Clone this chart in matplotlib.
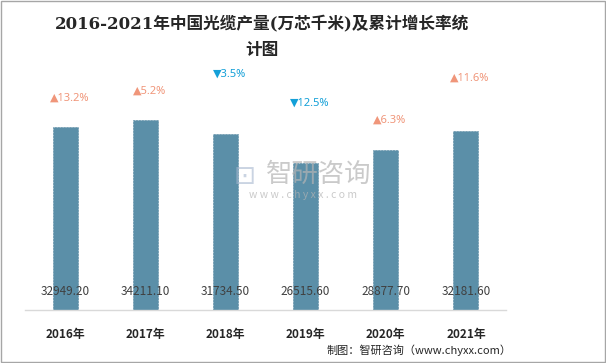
import matplotlib
matplotlib.use('Agg')
from matplotlib import pyplot as plt

# 数据
years = ['2016年', '2017年', '2018年', '2019年', '2020年', '2021年']
output = [32949.20, 34211.10, 31734.50, 26515.60, 28877.70, 32181.60]
growth = [13.2, 5.2, -3.5, -12.5, 6.3, 11.6]
label_offset = [21, 21, 43, 43, 21, 38]  # 增长率标签离柱顶的距离(pt)

cjk = ['Noto Sans CJK SC', 'DejaVu Sans']
plt.rcParams['font.family'] = cjk

fig = plt.figure(figsize=(6.06, 3.63), dpi=100)
ax = fig.add_axes([25 / 606, 1 - 310 / 363, 481 / 606, 222 / 363])

x = list(range(len(years)))
ax.bar(x, output, width=0.31, color='#5b8fa8', edgecolor='#55879f',
       linewidth=0.4, linestyle='--', zorder=2)

ax.set_xlim(-0.5, len(years) - 0.5)
ax.set_ylim(0, 40000)
ax.set_yticks([])
ax.set_xticks(x)
ax.set_xticklabels(years, fontsize=8.5, fontweight='bold', color='#262626')
ax.tick_params(axis='x', length=0, pad=13)
for s in ['top', 'left', 'right']:
    ax.spines[s].set_visible(False)
ax.spines['bottom'].set_color('#d9d9d9')
ax.spines['bottom'].set_linewidth(1)

# 柱内数值
for i, v in enumerate(output):
    ax.annotate('%.2f' % v, (i, 0), xytext=(0, 13), textcoords='offset points',
                ha='center', va='center', fontsize=8.5, color='#404040', zorder=3)

# 增长率标签
for i, g in enumerate(growth):
    if g >= 0:
        txt, col = '▲' + str(g) + '%', '#f0967a'
    else:
        txt, col = '▼' + str(abs(g)) + '%', '#14a0d8'
    ax.annotate(txt, (i, output[i]), xytext=(3, label_offset[i]),
                textcoords='offset points', ha='center', va='center',
                fontsize=8, color=col, family=['Noto Sans', 'DejaVu Sans'])

# 水印
fig.text(319 / 606, 1 - 174 / 363, '智研咨询', fontsize=19, color='#b4b4b4',
         alpha=0.7, ha='center', va='center', zorder=1)
fig.text(303 / 606, 1 - 195 / 363, 'w w w . c h y x x . c o m', fontsize=7.5,
         color='#b4b4b4', alpha=0.7, ha='center', va='center', zorder=1)
fig.text(245 / 606, 1 - 177 / 363, '⊡', fontsize=19, color='#a8b8d0',
         alpha=0.6, ha='center', va='center', family=['DejaVu Sans'])

# 标题
fig.text(262 / 606, 1 - 24 / 363, '2016-2021年中国光缆产量(万芯千米)及累计增长率统',
         fontsize=12, fontweight='bold', color='#262626', ha='center',
         va='center', family=['DejaVu Serif', 'Noto Sans CJK SC'])
fig.text(262 / 606, 1 - 50 / 363, '计图', fontsize=12, fontweight='bold',
         color='#262626', ha='center', va='center')

# 来源
fig.text(512 / 606, 1 - 350 / 363, '制图：智研咨询（www.chyxx.com）', fontsize=8,
         color='#262626', ha='right', va='center')

# 外框
fig.patches.append(plt.Rectangle((0.001, 0.002), 0.997, 0.996, transform=fig.transFigure,
                                 fill=False, edgecolor='#a6a6a6', linewidth=1))

fig.savefig('out.png', dpi=100)
